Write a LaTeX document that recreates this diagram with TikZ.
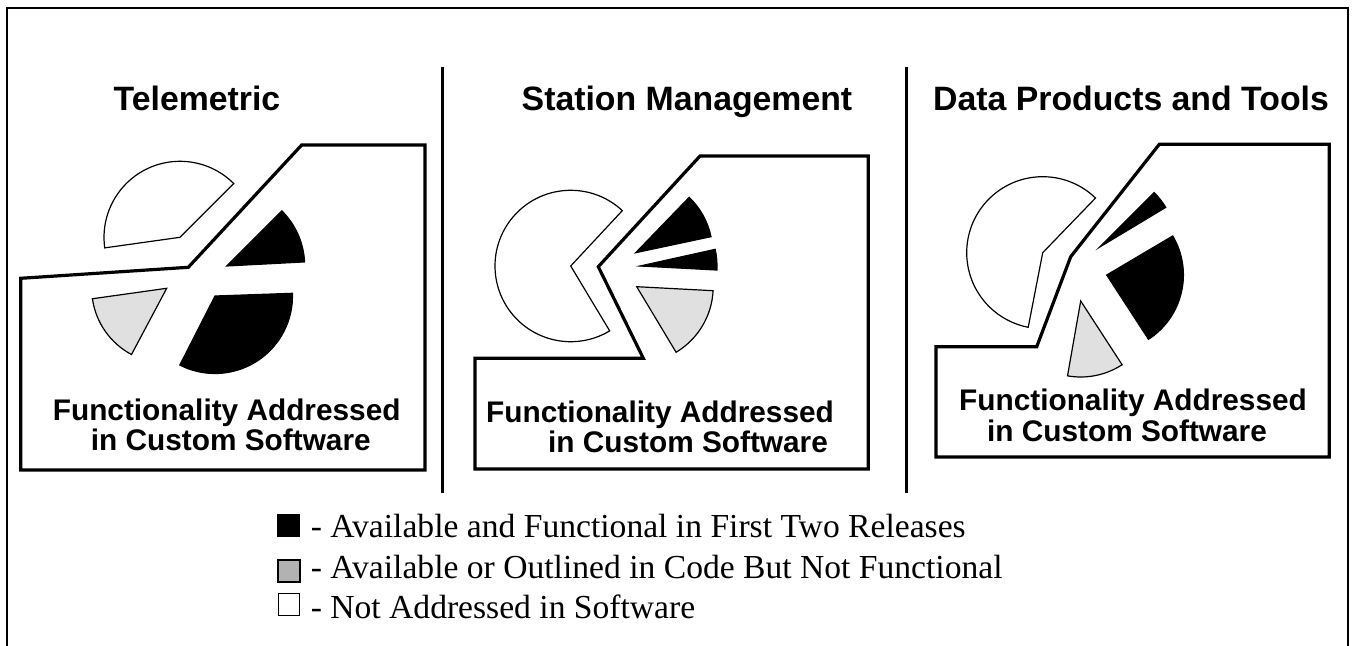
\documentclass[tikz,border=0pt]{standalone}
\usepackage{fontspec}
\setmainfont{Liberation Serif}
\newfontfamily\arialfont{Liberation Sans}
\tikzset{
  frame/.style={line width=1pt,line cap=butt},
  sepline/.style={line width=1.5pt},
  panel/.style={line width=1.6pt,line join=miter},
  slice/.style={line width=0.6pt,draw=black,line join=miter},
  title/.style={font=\arialfont\bfseries\fontsize{16.9}{20}\selectfont,anchor=base,inner sep=0pt},
  ptext/.style={font=\arialfont\bfseries\fontsize{14.9}{17}\selectfont,anchor=base,inner sep=0pt},
  legtext/.style={font=\fontsize{16.8}{20}\selectfont,anchor=base west,inner sep=0pt},
}
\definecolor{litegray}{gray}{0.88}
\definecolor{leggray}{gray}{0.70}
% slice: fill, cx, cy, angle1, angle2, radius (math angles, y axis points down)
\newcommand\pieslice[6]{\filldraw[slice,fill=#1] (#2,#3) -- ++(-#4:#6) arc[start angle=-#4,end angle=-#5,radius=#6] -- cycle;}
\begin{document}
\begin{tikzpicture}[x=0.5pt,y=-0.5pt]
\useasboundingbox (0,0) rectangle (1352,646);
% outer frame (open at bottom)
\draw[frame] (7,646) -- (7,8.5) -- (1347.5,8.5) -- (1347.5,646);
% separators
\draw[sepline] (442,67) -- (442,493);
\draw[sepline] (906,67) -- (906,493);
% titles
\node[title] (t1) at (197,111) {Telemetric};
\node[title] (t2) at (687,111) {Station Management};
\node[title] (t3) at (1131,111) {Data Products and Tools};
% panel outlines
\draw[panel] (20.7,278.3) -- (188.3,267.3) -- (301.7,145) -- (425,145) -- (425,470) -- (20.7,470) -- cycle;
\draw[panel] (475,358.3) -- (643.3,358.3) -- (598.3,266.7) -- (700,156) -- (868.3,156) -- (868.3,469) -- (475,469) -- cycle;
\draw[panel] (936,346.7) -- (1036.7,346.7) -- (1070.7,256.7) -- (1159.3,144.3) -- (1329.3,144.3) -- (1329.3,457) -- (936,457) -- cycle;
% pie 1
\pieslice{white}{180}{237.3}{45}{188}{76}
\pieslice{litegray}{166.7}{288.3}{188}{242}{75}
\pieslice{black}{215}{296}{243}{362}{77.5}
\pieslice{black}{226.7}{266}{3}{45}{78}
% pie 2
\pieslice{white}{570.7}{266}{47}{301}{75.7}
\pieslice{litegray}{636.7}{286.7}{301}{357}{76.5}
\pieslice{black}{640}{266}{357}{372.5}{77}
\pieslice{black}{635.7}{252.7}{12}{46}{77}
% pie 3
\pieslice{white}{1042.7}{252.7}{46}{259}{76}
\pieslice{litegray}{1080.7}{301}{260}{303}{76}
\pieslice{black}{1106.7}{275}{303}{390.6}{76.7}
\pieslice{black}{1099.3}{247.3}{31}{45}{77.5}
% panel texts
\node[ptext] (p1a) at (226.7,420) {Functionality Addressed};
\node[ptext] (p1b) at (230.8,450) {in Custom Software};
\node[ptext] (p2a) at (660,422) {Functionality Addressed};
\node[ptext] (p2b) at (688,452) {in Custom Software};
\node[ptext] (p3a) at (1133,410) {Functionality Addressed};
\node[ptext] (p3b) at (1127,441) {in Custom Software};
% legend
\filldraw[fill=black,draw=black,line width=0.8pt] (277.5,514.5) rectangle (299.5,536.5);
\filldraw[fill=leggray,draw=black,line width=1pt] (277.5,559.5) rectangle (299.5,581.5);
\filldraw[fill=white,draw=black,line width=0.8pt] (278.5,593.5) rectangle (299.5,615.5);
\node[legtext] (l1) at (310.4,537) {- Available and Functional in First Two Releases};
\node[legtext] (l2) at (310.4,578) {- Available or Outlined in Code But Not Functional};
\node[legtext] (l3) at (310.4,618) {- Not Addressed in Software};
\end{tikzpicture}
\end{document}
